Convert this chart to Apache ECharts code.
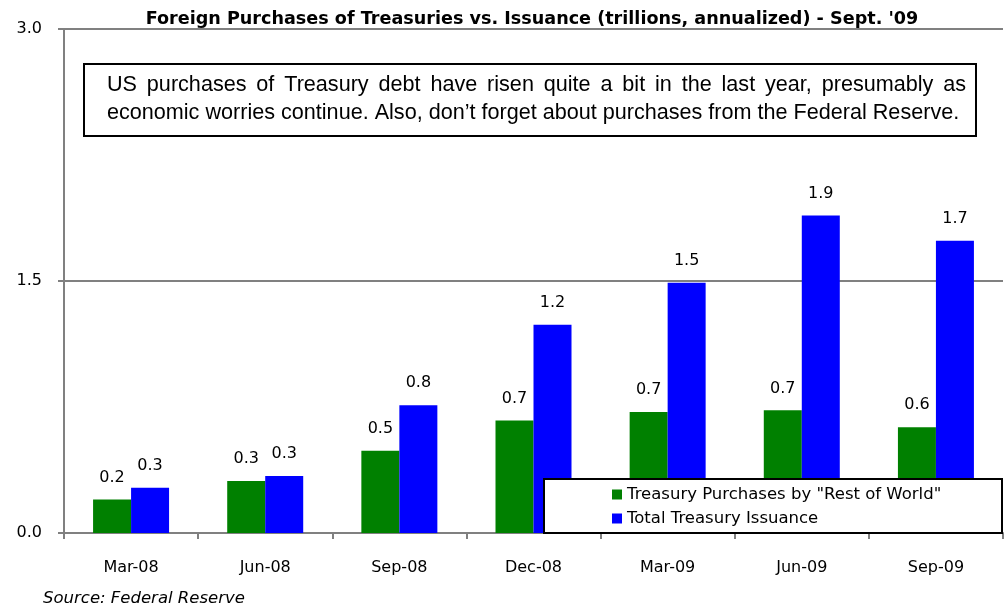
<!DOCTYPE html>
<html>
<head>
<meta charset="utf-8">
<script src="https://cdn.jsdelivr.net/npm/echarts@6/dist/echarts.min.js"></script>
<style>
  html, body { margin: 0; padding: 0; background: #fff; }
  #chart { width: 1005px; height: 610px; }
</style>
</head>
<body>
<div id="chart"></div>
<script>
  // 数据
  const categories = ['Mar-08', 'Jun-08', 'Sep-08', 'Dec-08', 'Mar-09', 'Jun-09', 'Sep-09']
  const restOfWorld = [0.20, 0.31, 0.49, 0.67, 0.72, 0.73, 0.63]
  const totalIssuance = [0.27, 0.34, 0.76, 1.24, 1.49, 1.89, 1.74]
  const yTicks = [0, 1.5, 3.0]

  const font = 'DejaVu Sans'
  const noteFont = 'Liberation Sans'
  const noteSize = 21.6
  const noteLine1 = 'US purchases of Treasury debt have risen quite a bit in the last year, presumably as'
  const noteLine2 = 'economic worries continue. Also, don\u2019t forget about purchases from the Federal Reserve.'

  // 第一行两端对齐
  const ctx = document.createElement('canvas').getContext('2d')
  ctx.font = noteSize + 'px ' + noteFont
  const words = noteLine1.split(' ')
  const wordWidths = words.map(w => ctx.measureText(w).width)
  const lineLeft = 107, lineRight = 966
  const gap = (lineRight - lineLeft - wordWidths.reduce((a, b) => a + b, 0)) / (words.length - 1)
  let cursor = lineLeft
  const wordGraphics = words.map((w, i) => {
    const g = {
      type: 'text', x: cursor, y: 74, z: 11,
      style: { text: w, fontFamily: noteFont, fontSize: noteSize, fill: '#000' }
    }
    cursor += wordWidths[i] + gap
    return g
  })

  let mycharts = echarts.init(document.getElementById('chart'))

  const labelStyle = { show: true, position: 'top', distance: 14, fontFamily: font, fontSize: 16, color: '#000', formatter: p => p.value.toFixed(1) }

  mycharts.setOption({
    animation: false,
    title: {
      text: "Foreign Purchases of Treasuries vs. Issuance (trillions, annualized) - Sept. '09",
      left: 527,
      textAlign: 'center',
      top: 5,
      textStyle: { fontFamily: font, fontSize: 17.6, fontWeight: 'bold', color: '#000' }
    },
    grid: { left: 64, right: 2, top: 29, bottom: 77 },
    legend: {
      orient: 'vertical',
      left: 607,
      top: 481,
      itemWidth: 10,
      itemHeight: 10,
      itemGap: 7,
      icon: 'rect',
      textStyle: { fontFamily: font, fontSize: 16.5, color: '#000' }
    },
    xAxis: {
      type: 'category',
      data: categories,
      axisLine: { lineStyle: { color: '#808080', width: 2 } },
      axisTick: { show: true, length: 6, lineStyle: { color: '#808080', width: 2 } },
      axisLabel: { fontFamily: font, fontSize: 16, color: '#000', margin: 27 }
    },
    yAxis: {
      type: 'value',
      min: yTicks[0],
      max: yTicks[2],
      interval: yTicks[1] - yTicks[0],
      axisLine: { show: true, lineStyle: { color: '#808080', width: 2 } },
      axisTick: { show: true, length: 6, lineStyle: { color: '#808080', width: 2 } },
      splitLine: { lineStyle: { color: '#808080', width: 2 } },
      axisLabel: { fontFamily: font, fontSize: 16, color: '#000', margin: 22, formatter: v => v.toFixed(1) }
    },
    series: [
      {
        name: 'Treasury Purchases by "Rest of World"',
        type: 'bar',
        data: restOfWorld,
        barWidth: 38,
        barGap: '0%',
        itemStyle: { color: '#008000' },
        label: labelStyle
      },
      {
        name: 'Total Treasury Issuance',
        type: 'bar',
        data: totalIssuance,
        barWidth: 38,
        barGap: '0%',
        itemStyle: { color: '#0000ff' },
        label: labelStyle
      }
    ],
    graphic: [
      // 注释框
      {
        type: 'rect',
        shape: { x: 84, y: 64, width: 892, height: 72 },
        style: { fill: '#fff', stroke: '#000', lineWidth: 2 },
        z: 10
      },
      ...wordGraphics,
      {
        type: 'text', x: lineLeft, y: 102, z: 11,
        style: { text: noteLine2, fontFamily: noteFont, fontSize: noteSize, fill: '#000' }
      },
      // 图例框
      {
        type: 'rect',
        shape: { x: 544, y: 479, width: 458, height: 54 },
        style: { fill: '#fff', stroke: '#000', lineWidth: 2 },
        z: 3
      },
      {
        type: 'text',
        left: 43,
        top: 590,
        style: { text: 'Source: Federal Reserve', fontFamily: font, fontSize: 16.5, fontStyle: 'italic', fill: '#000' }
      }
    ]
  })
</script>
</body>
</html>
